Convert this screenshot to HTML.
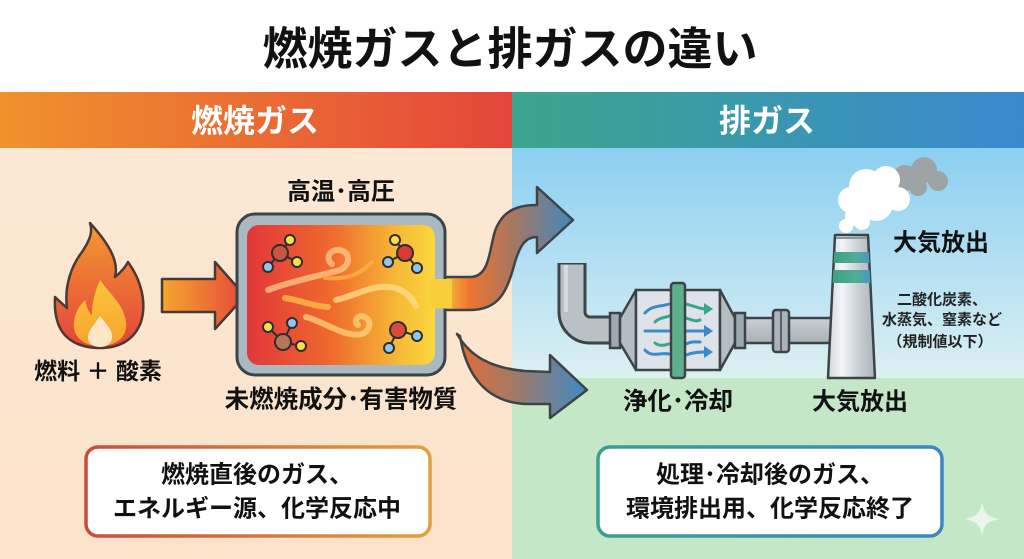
<!DOCTYPE html>
<html><head><meta charset="utf-8"><style>
html,body{margin:0;padding:0;background:#fff;}
svg{display:block;}
text{font-family:"Liberation Sans","Noto Sans CJK JP",sans-serif;font-weight:bold;}
</style></head><body>
<svg width="1024" height="559" viewBox="0 0 1024 559" xmlns="http://www.w3.org/2000/svg">
<defs>
<linearGradient id="hl" x1="0" x2="1" y1="0" y2="0"><stop offset="0" stop-color="#f0922c"/><stop offset="1" stop-color="#e4463a"/></linearGradient>
<linearGradient id="hr" x1="0" x2="1" y1="0" y2="0"><stop offset="0" stop-color="#3ba68c"/><stop offset="1" stop-color="#3a89d0"/></linearGradient>
<linearGradient id="peach" x1="0" x2="0" y1="0" y2="1"><stop offset="0" stop-color="#fbe8d5"/><stop offset="1" stop-color="#fbe2c8"/></linearGradient>
<linearGradient id="sky" x1="0" x2="0" y1="0" y2="1"><stop offset="0" stop-color="#8bcff1"/><stop offset="0.55" stop-color="#b7e1f2"/><stop offset="1" stop-color="#dcf0f1"/></linearGradient>
<linearGradient id="flame" x1="0" x2="0" y1="0" y2="1"><stop offset="0" stop-color="#f39a30"/><stop offset="1" stop-color="#e4433a"/></linearGradient>
<linearGradient id="flame2" x1="0" x2="0" y1="0" y2="1"><stop offset="0" stop-color="#fbc43a"/><stop offset="1" stop-color="#f8a530"/></linearGradient>
<linearGradient id="arr1" x1="0" x2="1" y1="0" y2="0"><stop offset="0" stop-color="#f6a62f"/><stop offset="1" stop-color="#e5483a"/></linearGradient>
<linearGradient id="cham" x1="0" x2="1" y1="0" y2="0"><stop offset="0" stop-color="#e2363a"/><stop offset="0.45" stop-color="#ef6a2e"/><stop offset="0.8" stop-color="#f6b937"/><stop offset="1" stop-color="#f9d73c"/></linearGradient>
<linearGradient id="rib1" gradientUnits="userSpaceOnUse" x1="440" x2="575" y1="0" y2="0"><stop offset="0" stop-color="#f8cc3a"/><stop offset="0.22" stop-color="#ee7430"/><stop offset="0.5" stop-color="#b0765a"/><stop offset="1" stop-color="#3a88c0"/></linearGradient>
<linearGradient id="rib2" gradientUnits="userSpaceOnUse" x1="455" x2="590" y1="0" y2="0"><stop offset="0" stop-color="#ea6a34"/><stop offset="0.45" stop-color="#a07a68"/><stop offset="1" stop-color="#3a8bca"/></linearGradient>
<linearGradient id="chim" x1="0" x2="1" y1="0" y2="0"><stop offset="0" stop-color="#cfd6db"/><stop offset="0.3" stop-color="#f4f6f7"/><stop offset="0.65" stop-color="#c8cfd4"/><stop offset="1" stop-color="#a9b3ba"/></linearGradient>
<linearGradient id="band" x1="0" x2="1" y1="0" y2="0"><stop offset="0" stop-color="#3f9f83"/><stop offset="0.6" stop-color="#4fae93"/><stop offset="1" stop-color="#4a98c2"/></linearGradient>
<linearGradient id="bl" x1="0" x2="1" y1="0" y2="0"><stop offset="0" stop-color="#c94c3b"/><stop offset="1" stop-color="#e0a040"/></linearGradient>
<linearGradient id="br" x1="0" x2="1" y1="0" y2="0"><stop offset="0" stop-color="#3a9f8c"/><stop offset="1" stop-color="#3a88c2"/></linearGradient>
<linearGradient id="pipe" x1="0" x2="0" y1="0" y2="1"><stop offset="0" stop-color="#c9cfd3"/><stop offset="1" stop-color="#a8b1b7"/></linearGradient>
</defs>

<!-- backgrounds -->
<rect x="0" y="0" width="1024" height="92" fill="#ffffff"/>
<rect x="0" y="148" width="512" height="411" fill="url(#peach)"/>
<rect x="512" y="148" width="512" height="230" fill="url(#sky)"/>
<rect x="512" y="378" width="512" height="181" fill="#c4e8c7"/>
<rect x="0" y="92" width="512" height="56" fill="url(#hl)"/>
<rect x="512" y="92" width="512" height="56" fill="url(#hr)"/>

<!-- title -->
<text x="510" y="49" font-size="45" text-anchor="middle" dominant-baseline="central" fill="#111">燃焼ガスと排ガスの違い</text>
<text x="255" y="121" font-size="32" text-anchor="middle" dominant-baseline="central" fill="#fff">燃焼ガス</text>
<text x="767" y="121" font-size="32" text-anchor="middle" dominant-baseline="central" fill="#fff">排ガス</text>

<!-- flame -->
<path d="M90,223 C110,245 119,262 115,277 C121,272 126,266 128,262 C141,280 147,302 141,322 C134,341 118,348 100,348 C80,348 62,340 57,320 C54,310 55,301 55,297 C60,302 64,305 67,308 C64,285 72,265 82,252 C90,240 93,232 90,223 Z" fill="url(#flame)" stroke="#4a3a35" stroke-width="2.5" stroke-linejoin="round"/>
<path d="M100,280 C110,294 124,305 126,322 C128,337 116,346 100,346 C84,346 72,337 74,322 C75,312 80,305 85,300 C87,308 89,313 92,315 C92,300 96,290 100,280 Z" fill="url(#flame2)"/>
<path d="M100,316 C107,325 113,331 112,338 C111,344 106,347 100,347 C94,347 88,344 88,338 C88,331 94,325 100,316 Z" fill="#fde6c6"/>
<text x="98" y="371" font-size="23" text-anchor="middle" dominant-baseline="central" fill="#111">燃料 ＋ 酸素</text>

<!-- input arrow -->
<path d="M162,279 L215,279 L215,262 L245,296 L215,329 L215,312 L162,312 Z" fill="url(#arr1)" stroke="#4a3a35" stroke-width="2.5" stroke-linejoin="round"/>

<!-- S ribbon arrow -->
<path d="M440,277 L470,277 C490,277 489,250 495,231 C502,212 515,205 537,205 L537,187 L573,220 L537,253 L537,237 C525,237 520,246 515,262 C507,292 499,310 470,310 L440,310 Z" fill="url(#rib1)" stroke="#3d4448" stroke-width="2.5" stroke-linejoin="round"/>
<!-- lower arrow -->
<path d="M457,334 C470,356 490,368 525,371 L550,372 L550,355 L587,390 L550,418 L550,404 L525,404 C490,402 467,380 460,336 Z" fill="url(#rib2)" stroke="#3d4448" stroke-width="2.5" stroke-linejoin="round"/>

<!-- chamber -->
<rect x="237" y="214" width="208" height="161" rx="18" fill="#aab8c1" stroke="#3d4448" stroke-width="3"/>
<rect x="247" y="225" width="188" height="140" rx="12" fill="url(#cham)"/>
<rect x="430" y="279" width="22" height="29.5" fill="#f8cf3a"/>
<!-- swirls -->
<g fill="none" stroke-linecap="round" opacity="0.75">
<path d="M268,290 C295,280 320,276 340,270 C352,265 350,250 338,250 C328,250 326,260 332,264" stroke="#ffc98a" stroke-width="6"/>
<path d="M325,278 C345,280 360,275 372,262" stroke="#ffb347" stroke-width="4"/>
<path d="M285,298 C300,300 312,306 328,307" stroke="#ffc24a" stroke-width="6"/>
<path d="M336,300 C355,296 370,285 390,287 C405,289 412,298 416,306" stroke="#ffe08a" stroke-width="6"/>
<path d="M306,317 C325,322 345,338 362,334 C372,330 372,318 362,316 C356,316 354,322 358,325" stroke="#ffd27a" stroke-width="6"/>
</g>
<!-- molecules -->
<g stroke="#2e2e2e" stroke-width="2">
<line x1="280" y1="253" x2="290" y2="240"/><line x1="280" y1="253" x2="297" y2="262"/><line x1="280" y1="253" x2="268" y2="267"/>
<line x1="405" y1="253" x2="395" y2="240"/><line x1="405" y1="253" x2="388" y2="262"/><line x1="405" y1="253" x2="417" y2="268"/>
<line x1="283" y1="342" x2="268" y2="327"/><line x1="283" y1="342" x2="292" y2="323"/><line x1="283" y1="342" x2="301" y2="346"/>
<line x1="398" y1="330" x2="417" y2="336"/><line x1="398" y1="330" x2="389" y2="348"/>
<circle cx="280" cy="253" r="8" fill="#c8553e"/><circle cx="290" cy="240" r="5" fill="#f6e04a"/><circle cx="297" cy="262" r="5" fill="#f6e04a"/><circle cx="268" cy="267" r="5" fill="#8fc8ea"/>
<circle cx="405" cy="253" r="8" fill="#d83a34"/><circle cx="395" cy="240" r="5" fill="#f6e04a"/><circle cx="388" cy="262" r="5" fill="#8fc8ea"/><circle cx="417" cy="268" r="5" fill="#8fc8ea"/>
<circle cx="283" cy="342" r="8" fill="#b9745e"/><circle cx="268" cy="327" r="5" fill="#f6e04a"/><circle cx="292" cy="323" r="5" fill="#8fc8ea"/><circle cx="301" cy="346" r="5" fill="#f6e04a"/>
<circle cx="398" cy="330" r="8" fill="#d84a3a"/><circle cx="417" cy="336" r="5" fill="#8fc8ea"/><circle cx="389" cy="348" r="5" fill="#8fc8ea"/>
</g>
<text x="341" y="192" font-size="24" text-anchor="middle" dominant-baseline="central" fill="#111">高温･高圧</text>
<text x="341" y="400" font-size="24.5" text-anchor="middle" dominant-baseline="central" fill="#111">未燃焼成分･有害物質</text>

<!-- pipe elbow -->
<path d="M572,263 V312 A18,18 0 0 0 590,330 H614" fill="none" stroke="#3d4448" stroke-width="29"/>
<path d="M572,264.5 V312 A18,18 0 0 0 590,330 H614" fill="none" stroke="#b9c1c7" stroke-width="23"/>
<path d="M566,265 V312" stroke="#d5dadd" stroke-width="4" fill="none"/>
<!-- right pipe -->
<rect x="743" y="318" width="92" height="25" fill="url(#pipe)" stroke="#3d4448" stroke-width="2.5"/>
<rect x="773" y="310" width="16" height="42" rx="3" fill="#aab3ba" stroke="#3d4448" stroke-width="2.5"/>
<line x1="781" y1="311" x2="781" y2="351" stroke="#3d4448" stroke-width="1.5"/>
<!-- converter -->
<rect x="610" y="313" width="10" height="35" fill="#9ea8af" stroke="#3d4448" stroke-width="2.5"/>
<polygon points="620,318 636,290 636,370 620,343" fill="#b4bdc3" stroke="#3d4448" stroke-width="2.5" stroke-linejoin="round"/>
<rect x="636" y="290" width="84" height="80" fill="#dde3e8" stroke="#3d4448" stroke-width="2.5"/>
<polygon points="720,290 735,318 735,343 720,370" fill="#b4bdc3" stroke="#3d4448" stroke-width="2.5" stroke-linejoin="round"/>
<rect x="735" y="313" width="10" height="35" fill="#9ea8af" stroke="#3d4448" stroke-width="2.5"/>
<g fill="none" stroke-width="3" stroke-linecap="round">
<path d="M645,313 C652,305 660,307 669,304" stroke="#3a8ac8"/>
<path d="M655,322 C660,317 665,318 669,316" stroke="#3aa58a"/>
<path d="M645,331 H669" stroke="#3a8ac8"/>
<path d="M655,343 C660,347 665,345 669,344" stroke="#3aa58a"/>
<path d="M645,350 C652,358 660,352 669,354" stroke="#3a8ac8"/>
<path d="M686,304 C694,306 700,309 706,309" stroke="#3aa58a"/>
<path d="M686,331 H706" stroke="#3a8ac8"/>
<path d="M686,355 C694,352 700,352 706,352" stroke="#3a8ac8"/>
<path d="M686,318 C692,320 696,322 700,320" stroke="#3aa58a"/>
<path d="M686,344 C692,341 696,342 700,342" stroke="#3a8ac8"/>
</g>
<polygon points="704,303 713,309 704,315" fill="#3aa58a"/>
<polygon points="704,325 713,331 704,337" fill="#3a8ac8"/>
<polygon points="704,346 713,352 704,358" fill="#3a8ac8"/>
<rect x="671" y="283" width="14" height="95" rx="3" fill="#5cb08c" stroke="#3d4448" stroke-width="2.5"/>

<!-- clouds -->
<g fill="#9ea3a6">
<circle cx="905" cy="178" r="13"/><circle cx="924" cy="170" r="13"/><circle cx="938" cy="181" r="10"/><circle cx="918" cy="187" r="9"/><circle cx="896" cy="186" r="9"/>
</g>
<g fill="#ffffff">
<circle cx="866" cy="186" r="17"/><circle cx="886" cy="180" r="14"/><circle cx="851" cy="200" r="13"/><circle cx="876" cy="204" r="17"/><circle cx="898" cy="199" r="12"/><circle cx="855" cy="216" r="10"/><circle cx="846" cy="226" r="7"/><circle cx="862" cy="222" r="8"/>
</g>
<!-- chimney -->
<polygon points="835,235 868,235 875,378 828,378" fill="url(#chim)" stroke="#3d4448" stroke-width="2.5" stroke-linejoin="round"/>
<polygon points="834.2,252 868.8,252 869.4,263 833.6,263" fill="url(#band)"/>
<polygon points="833.3,270 869.7,270 870.4,283 832.6,283" fill="url(#band)"/>
<line x1="836" y1="238" x2="867" y2="238" stroke="#8c969d" stroke-width="2"/>

<!-- right labels -->
<text x="941" y="243" font-size="24" text-anchor="middle" dominant-baseline="central" fill="#111">大気放出</text>
<text x="942" y="300" font-size="15" text-anchor="middle" dominant-baseline="central" fill="#222">二酸化炭素、</text>
<text x="942" y="320" font-size="15" text-anchor="middle" dominant-baseline="central" fill="#222">水蒸気、窒素など</text>
<text x="940" y="342" font-size="15" text-anchor="middle" dominant-baseline="central" fill="#222">（規制値以下）</text>
<text x="678" y="402" font-size="24.5" text-anchor="middle" dominant-baseline="central" fill="#111">浄化･冷却</text>
<text x="860" y="402" font-size="24" text-anchor="middle" dominant-baseline="central" fill="#111">大気放出</text>

<!-- bottom boxes -->
<rect x="86" y="447" width="344" height="89" rx="12" fill="#ffffff" stroke="url(#bl)" stroke-width="3.5"/>
<rect x="598" y="447" width="344" height="89" rx="12" fill="#ffffff" stroke="url(#br)" stroke-width="3.5"/>
<text x="257" y="475" font-size="24" text-anchor="middle" dominant-baseline="central" fill="#111">燃焼直後のガス、</text>
<text x="257" y="509" font-size="24" text-anchor="middle" dominant-baseline="central" fill="#111">エネルギー源、化学反応中</text>
<text x="770" y="475" font-size="24" text-anchor="middle" dominant-baseline="central" fill="#111">処理･冷却後のガス、</text>
<text x="770" y="509" font-size="24" text-anchor="middle" dominant-baseline="central" fill="#111">環境排出用、化学反応終了</text>

<!-- sparkle -->
<path d="M982,502 C984,514 988,517 1000,519 C988,521 984,524 982,536 C980,524 976,521 964,519 C976,517 980,514 982,502 Z" fill="#eef7ef" opacity="0.9"/>
</svg>
</body></html>
